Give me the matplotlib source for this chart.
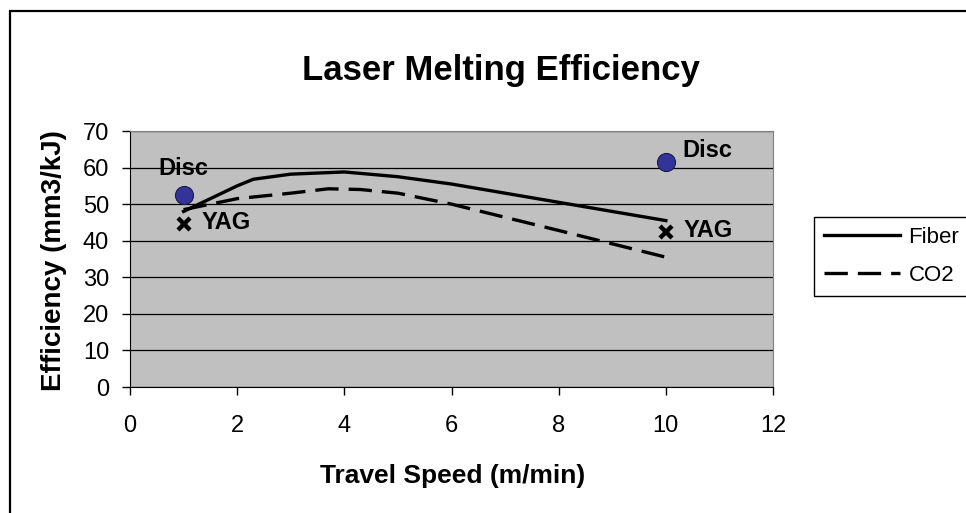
import matplotlib
matplotlib.use("Agg")
import matplotlib.pyplot as plt
from matplotlib.patches import Rectangle

plt.rcParams.update({"font.family": ["Liberation Sans", "DejaVu Sans"]})

# data
fiber_x = [1, 1.5, 2, 2.3, 3, 4, 5, 6, 8, 10]
fiber_y = [48, 51.5, 55, 56.8, 58.2, 58.8, 57.5, 55.5, 50.5, 45.5]
co2_x = [1, 2, 3, 3.7, 4.3, 5, 6, 8, 10]
co2_y = [48.5, 51.5, 53, 54.2, 54, 53, 50, 42.8, 35.5]
disc_x = [1, 10]
disc_y = [52.5, 61.5]
yag_x = [1, 10]
yag_y = [44.5, 42.5]

W, H = 966, 513
fig = plt.figure(figsize=(W / 100, H / 100), dpi=100)
fig.patch.set_facecolor("white")

# outer chart frame (runs off the right/bottom edge like the original)
fig.patches.append(Rectangle((9.5 / W, -0.05), 1.1, 1 - 10.5 / H + 0.05,
                             transform=fig.transFigure, fill=False,
                             edgecolor="black", lw=1.6))

ax = fig.add_axes([130 / W, 1 - 387 / H, 643 / W, 256 / H])
ax.set_facecolor("#C0C0C0")
ax.set_xlim(0, 12)
ax.set_ylim(0, 70)
ax.set_xticks(range(0, 13, 2))
ax.set_yticks(range(0, 71, 10))
ax.grid(axis="y", color="black", lw=0.9)
ax.set_axisbelow(True)
ax.tick_params(direction="out", length=6, width=1, labelsize=17)
ax.tick_params(axis="x", pad=14)
ax.tick_params(axis="y", pad=9)
for s in ["top", "right"]:
    ax.spines[s].set_color("#808080")
for s in ["left", "bottom"]:
    ax.spines[s].set_color("black")

ax.plot(fiber_x, fiber_y, color="black", lw=2.4, label="Fiber", zorder=3)
ax.plot(co2_x, co2_y, color="black", lw=2.4, ls=(0, (7, 3)), label="CO2", zorder=3)
ax.plot(disc_x, disc_y, ls="none", marker="o", ms=13, color="#333399",
        mec="#1a1a4d", mew=0.8, zorder=4)
ax.plot(yag_x, yag_y, ls="none", marker="x", ms=8, mew=3.2, color="black", zorder=4)

bold = dict(fontsize=17, fontweight="bold")
ax.annotate("Disc", (disc_x[0], disc_y[0]), xytext=(0, 19), textcoords="offset points",
            ha="center", va="center", **bold)
ax.annotate("Disc", (disc_x[1], disc_y[1]), xytext=(12, 8), textcoords="offset points",
            ha="left", va="center", **bold)
for xv, yv in zip(yag_x, yag_y):
    ax.annotate("YAG", (xv, yv), xytext=(13, 1), textcoords="offset points",
                ha="left", va="center", **bold)

fig.text(501 / W, 1 - 71 / H, "Laser Melting Efficiency", ha="center", va="center",
         fontsize=25, fontweight="bold")
fig.text(453 / W, 1 - 476 / H, "Travel Speed (m/min)", ha="center", va="center",
         fontsize=19, fontweight="bold")
fig.text(54 / W, 1 - 261 / H, "Efficiency (mm3/kJ)", ha="center", va="center",
         rotation=90, fontsize=20, fontweight="bold")

leg = fig.legend(loc="upper left", bbox_to_anchor=(814 / W, 1 - 217 / H),
                 frameon=True, fancybox=False, edgecolor="black", framealpha=1,
                 fontsize=16, handlelength=3.4, borderaxespad=0, borderpad=0.45,
                 labelspacing=0.75, handletextpad=0.4)
leg.get_frame().set_linewidth(1.0)

fig.savefig("out.png", dpi=100, facecolor="white")
